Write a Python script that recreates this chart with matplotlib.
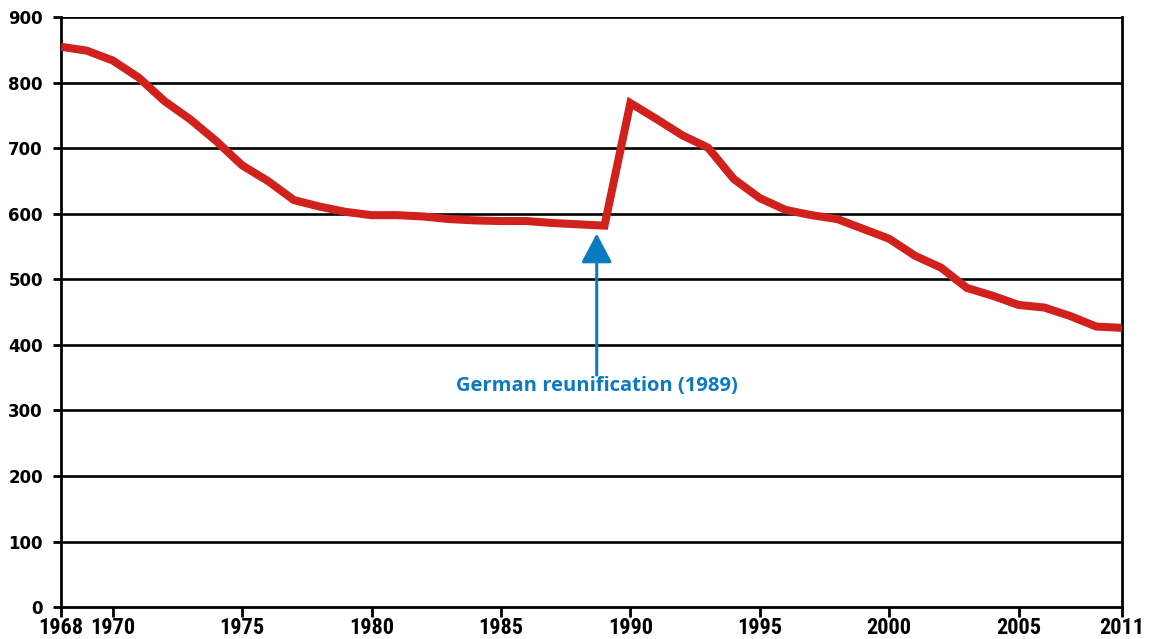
"""Line chart: values 1968-2011 with German reunification annotation."""

import matplotlib
matplotlib.use("Agg")
import matplotlib.pyplot as plt
import numpy as np

# Data
YEARS = list(range(1968, 2009)) + [2011]
VALUES = [
    855, 849, 834, 808, 772, 744, 711, 674, 650, 621,
    611, 603, 598, 598, 596, 592, 590, 589, 589, 586,
    584, 582, 769, 745, 720, 701, 653, 624, 606, 598,
    592, 577, 562, 536, 518, 487, 475, 461, 457, 444,
    428, 426,
]
TICK_YEARS = [1968, 1970, 1975, 1980, 1985, 1990, 1995, 2000, 2005, 2011]
Y_TICKS = [0, 100, 200, 300, 400, 500, 600, 700, 800, 900]

ANNOT_TEXT = "German reunification (1989)"
ANNOT_POS = 20.7        # category position of the arrow
ANNOT_TIP = 570
ANNOT_TAIL = 354
ANNOT_LABEL_Y = 337

LINE_RED = "#d0211d"
ANNOT_BLUE = "#0b7bbf"


def main() -> None:
    fig = plt.figure(figsize=(11.53, 6.39), dpi=100)
    ax = fig.add_axes([0.0529, 0.050, 0.9203, 0.923])

    x = np.arange(len(YEARS))
    for v in Y_TICKS[1:]:
        ax.axhline(v, color="black", linewidth=1.9, zorder=1)

    ax.plot(x, VALUES, color=LINE_RED, linewidth=5.8,
            solid_joinstyle="miter", solid_capstyle="butt", zorder=3)

    ax.set_xlim(0, len(YEARS) - 1)
    ax.set_ylim(0, 900)

    ax.set_xticks([YEARS.index(y) for y in TICK_YEARS])
    ax.set_xticklabels([str(y) for y in TICK_YEARS],
                       family=["Liberation Sans Narrow", "Roboto Condensed",
                               "Open Sans"],
                       fontweight="bold", fontsize=16, fontstretch="condensed")
    ax.set_yticks(Y_TICKS)
    ax.set_yticklabels([str(v) for v in Y_TICKS],
                       family="DejaVu Sans", fontweight="bold", fontsize=12)

    ax.tick_params(axis="x", length=7, width=2, pad=0)
    ax.tick_params(axis="y", length=6, width=2, pad=7)

    for side in ["left", "right", "bottom"]:
        ax.spines[side].set_linewidth(2)
        ax.spines[side].set_color("black")
    ax.spines["top"].set_visible(False)

    ax.annotate("", xy=(ANNOT_POS, ANNOT_TIP), xytext=(ANNOT_POS, ANNOT_TAIL),
                arrowprops=dict(arrowstyle="-|>,head_length=1.8,head_width=0.95",
                                color=ANNOT_BLUE, linewidth=2.2,
                                shrinkA=0, shrinkB=0),
                zorder=4)
    ax.text(ANNOT_POS, ANNOT_LABEL_Y, ANNOT_TEXT, color=ANNOT_BLUE,
            family="Open Sans", fontweight="bold", fontsize=14.5,
            ha="center", va="center", zorder=4)

    fig.savefig("out.png", dpi=100)
    plt.close(fig)


if __name__ == "__main__":
    main()
